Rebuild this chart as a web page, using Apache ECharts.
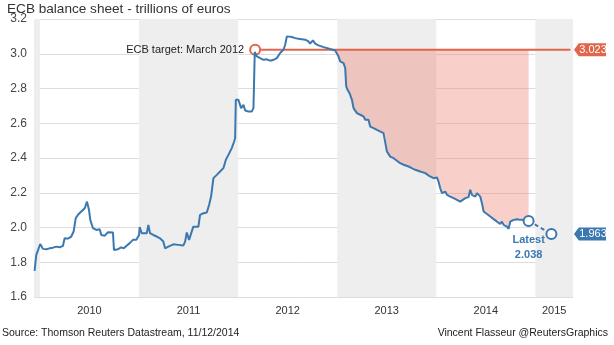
<!DOCTYPE html>
<html>
<head>
<meta charset="utf-8">
<script src="https://cdn.jsdelivr.net/npm/echarts@6/dist/echarts.min.js"></script>
<style>html,body{margin:0;padding:0;background:#fff;}#c{width:614px;height:345px;}</style>
</head>
<body>
<div id="c"></div>
<script>
// Dates as decimal years
var dates = [2009.946,2009.963,2009.980,2010.003,2010.030,2010.064,2010.098,2010.131,2010.165,2010.199,
2010.232,2010.249,2010.283,2010.316,2010.340,2010.361,2010.384,2010.417,2010.452,2010.475,
2010.485,2010.495,2010.508,2010.535,2010.569,2010.603,2010.619,2010.654,2010.687,2010.737,
2010.747,2010.788,2010.821,2010.845,2010.872,2010.906,2010.939,2010.973,2011.000,2011.007,
2011.027,2011.078,2011.094,2011.111,2011.144,2011.179,2011.212,2011.245,2011.263,2011.296,
2011.346,2011.397,2011.447,2011.465,2011.482,2011.505,2011.525,2011.548,2011.599,2011.616,
2011.650,2011.684,2011.707,2011.727,2011.751,2011.785,2011.818,2011.852,2011.876,2011.902,
2011.936,2011.960,2011.970,2011.977,2012.003,2012.030,2012.054,2012.071,2012.104,2012.138,
2012.155,2012.168,2012.189,2012.222,2012.256,2012.290,2012.323,2012.357,2012.391,2012.424,
2012.458,2012.475,2012.492,2012.508,2012.542,2012.576,2012.609,2012.643,2012.677,2012.710,
2012.727,2012.755,2012.778,2012.811,2012.862,2012.929,2012.980,2012.997,2013.013,2013.030,
2013.064,2013.081,2013.091,2013.104,2013.124,2013.149,2013.165,2013.199,2013.232,2013.266,
2013.283,2013.316,2013.333,2013.367,2013.401,2013.417,2013.468,2013.485,2013.502,2013.535,
2013.569,2013.603,2013.636,2013.670,2013.720,2013.754,2013.771,2013.788,2013.838,2013.889,
2013.922,2013.973,2014.007,2014.023,2014.040,2014.058,2014.091,2014.108,2014.141,2014.175,
2014.209,2014.242,2014.259,2014.293,2014.326,2014.343,2014.360,2014.377,2014.394,2014.411,
2014.427,2014.444,2014.461,2014.478,2014.512,2014.545,2014.579,2014.613,2014.629,2014.646,
2014.663,2014.680,2014.697,2014.713,2014.730,2014.747,2014.781,2014.798,2014.815,2014.848,
2014.865,2014.899,2014.932];
var values = [1.750,1.842,1.852,1.905,1.877,1.875,1.880,1.884,1.890,1.886,
1.894,1.938,1.936,1.948,1.977,2.053,2.073,2.092,2.111,2.149,
2.155,2.101,2.044,1.996,1.986,1.990,1.957,1.953,1.973,1.971,
1.871,1.875,1.886,1.880,1.894,1.910,1.929,1.929,1.957,2.002,
1.967,1.967,2.015,1.967,1.957,1.948,1.938,1.919,1.880,1.890,
1.903,1.900,1.896,1.919,1.971,1.929,1.919,2.005,2.005,2.073,
2.082,2.086,2.130,2.178,2.284,2.303,2.322,2.342,2.389,2.418,
2.457,2.495,2.514,2.735,2.735,2.687,2.706,2.673,2.668,2.668,
2.687,3.010,2.985,2.975,2.965,2.968,2.960,2.965,2.975,3.004,
3.023,3.052,3.100,3.090,3.096,3.090,3.086,3.084,3.081,3.071,
3.058,3.077,3.058,3.048,3.038,3.027,3.019,3.013,2.985,2.956,
2.946,2.918,2.812,2.793,2.774,2.735,2.687,2.658,2.649,2.639,
2.620,2.620,2.581,2.572,2.562,2.553,2.543,2.543,2.437,2.408,
2.399,2.384,2.370,2.361,2.351,2.342,2.351,2.332,2.322,2.313,
2.299,2.284,2.288,2.264,2.226,2.198,2.207,2.188,2.178,2.169,
2.159,2.149,2.159,2.169,2.175,2.217,2.188,2.198,2.178,2.198,
2.188,2.178,2.140,2.092,2.078,2.063,2.048,2.034,2.044,2.021,
2.034,2.015,2.024,2.005,1.992,2.034,2.044,2.034,2.048,2.044,
2.053,2.044,2.038];
// ECB target
var targetDates = [2012.172, 2015.354];
var targetValue = 3.023;
// Latest estimate
var latestDates = [2014.932, 2015.162];
var latestValues = [2.038, 1.963];
// Shaded gap range
var shadeStart = 2012.975, shadeEnd = 2014.932;
// Alternating year bands
var bands = [[2009.94, 2010], [2011, 2012], [2013, 2014], [2015, 2015.38]];
var yearLabelPos = [2010.5, 2011.5, 2012.5, 2013.5, 2014.5, 2015.19];
var xMin = 2009.94, xMax = 2015.38;

var BLUE = '#3b78b0', ORANGE = '#e0654a';
var FONT = '"Liberation Sans", Arial, sans-serif';

var main = dates.map(function (d, i) { return [d, values[i]]; });
var shadeBase = main.filter(function (p) { return p[0] >= shadeStart && p[0] <= shadeEnd; });
var tagPath = 'path://M0,6 L6,0 L40,0 L40,12 L6,12 Z';

function renderShade(params, api) {
  if (params.dataIndex !== 0) return null;
  var pts = shadeBase.map(function (p) { return api.coord(p); });
  pts.unshift(api.coord([shadeBase[0][0] - 0.005, targetValue]));
  pts.push(api.coord([shadeBase[shadeBase.length - 1][0], targetValue]));
  return { type: 'polygon', shape: { points: pts }, style: { fill: 'rgba(235,125,105,0.36)' }, silent: true };
}

var chart = echarts.init(document.getElementById('c'), null, { renderer: 'canvas' });
chart.setOption({
  animation: false,
  textStyle: { fontFamily: FONT },
  title: [
    { text: 'ECB balance sheet - trillions of euros', left: 2, top: -3,
      textStyle: { fontSize: 13.6, fontWeight: 'normal', color: '#333', fontFamily: FONT } },
    { text: 'Source: Thomson Reuters Datastream, 11/12/2014', left: 2, top: 328, padding: 0,
      textStyle: { fontSize: 10.5, fontWeight: 'normal', color: '#222', fontFamily: FONT } },
    { text: 'Vincent Flasseur @ReutersGraphics', right: 6, top: 328, padding: 0,
      textStyle: { fontSize: 10.5, fontWeight: 'normal', color: '#222', fontFamily: FONT } }
  ],
  grid: { left: 34, right: 41, top: 19, bottom: 48 },
  xAxis: {
    type: 'value', min: xMin, max: xMax,
    splitLine: { show: false }, axisLine: { show: false }, axisTick: { show: false },
    axisLabel: { customValues: yearLabelPos, formatter: function (v) { return String(Math.floor(v)); },
      color: '#333', fontSize: 11, margin: 8, fontFamily: FONT }
  },
  yAxis: {
    type: 'value', min: 1.6, max: 3.2, interval: 0.2,
    axisLine: { show: false }, axisTick: { show: false },
    splitLine: { lineStyle: { color: '#dddddd', width: 1 } },
    axisLabel: { formatter: function (v) { return v.toFixed(1); }, color: '#444', fontSize: 12, margin: 7, fontFamily: FONT }
  },
  series: [
    { type: 'line', name: 'bands', data: [], z: 0, silent: true,
      markArea: { silent: true, itemStyle: { color: '#eeeeee' },
        data: bands.map(function (b) { return [{ xAxis: b[0] }, { xAxis: b[1] }]; }) } },
    { type: 'custom', name: 'gap', z: 1, silent: true, renderItem: renderShade,
      data: shadeBase, encode: { x: 0, y: 1 } },
    { type: 'line', name: 'target', z: 3, silent: true,
      data: [
        { value: [targetDates[0], targetValue], label: { show: true, position: 'left', distance: 5,
          formatter: 'ECB target: March 2012', color: '#222', fontSize: 11, fontFamily: FONT } },
        { value: [targetDates[1], targetValue], symbol: 'none' }
      ],
      lineStyle: { color: ORANGE, width: 2 },
      symbol: 'emptyCircle', symbolSize: 10,
      itemStyle: { color: ORANGE, borderColor: ORANGE, borderWidth: 1.5 },
      markPoint: { silent: true, symbol: tagPath, symbolSize: [32, 13], symbolOffset: [17, 0],
        itemStyle: { color: ORANGE },
        label: { show: true, color: '#fff', fontSize: 11, offset: [3, 0], fontFamily: FONT,
          formatter: function () { return targetValue.toFixed(3); } },
        data: [{ coord: [xMax, targetValue] }] }
    },
    { type: 'line', name: 'ECB', z: 4, data: main, symbol: 'none', silent: true,
      lineStyle: { color: BLUE, width: 2 } },
    { type: 'line', name: 'latest', z: 5, silent: true,
      data: [
        { value: [latestDates[0], latestValues[0]], label: { show: true, position: 'bottom', distance: 6,
          formatter: 'Latest\n' + latestValues[0].toFixed(3), color: BLUE, fontWeight: 'bold',
          fontSize: 11, lineHeight: 15, fontFamily: FONT } },
        { value: [latestDates[1], latestValues[1]] }
      ],
      lineStyle: { color: BLUE, width: 2, type: [4, 3] },
      symbol: 'emptyCircle', symbolSize: 10,
      itemStyle: { color: BLUE, borderColor: BLUE, borderWidth: 1.5 },
      markPoint: { silent: true, symbol: tagPath, symbolSize: [32, 13], symbolOffset: [17, 0],
        itemStyle: { color: BLUE },
        label: { show: true, color: '#fff', fontSize: 11, offset: [3, 0], fontFamily: FONT,
          formatter: function () { return latestValues[1].toFixed(3); } },
        data: [{ coord: [xMax, latestValues[1]] }] }
    }
  ]
});
</script>
</body>
</html>
